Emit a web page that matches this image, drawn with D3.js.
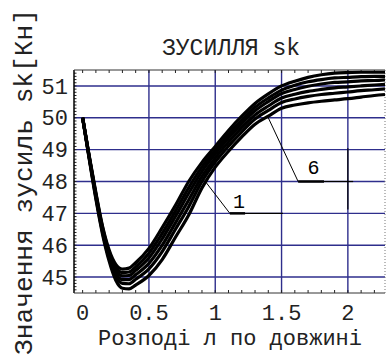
<!DOCTYPE html>
<html><head><meta charset="utf-8">
<script src="https://cdn.jsdelivr.net/npm/d3@7"></script>
<style>body{margin:0;background:#fff}svg{display:block}</style>
</head><body>
<script>
const title = "ЗУСИЛЛЯ sk";
const xTitle = "Розподі л по довжині";
const yTitle = "Значення зусиль sk[Кн]";
const xTicks = [0, 0.5, 1, 1.5, 2];
const xTickLabels = ["0", "0.5", "1", "1.5", "2"];
const yTicks = [45, 46, 47, 48, 49, 50, 51];
const yTickLabels = ["45", "46", "47", "48", "49", "50", "51"];
const xs = [0,0.05,0.1,0.15,0.2,0.25,0.3,0.35,0.4,0.5,0.6,0.7,0.8,0.9,1.0,1.1,1.2,1.3,1.4,1.5,1.6,1.7,1.8,1.9,2.0,2.1,2.2,2.28];
const s1 = [50,48.70,47.45,46.35,45.50,44.90,44.65,44.63,44.75,45.05,45.55,46.25,46.95,47.80,48.45,48.95,49.40,49.80,50.05,50.30,50.40,50.47,50.52,50.56,50.60,50.65,50.70,50.73];
const s2 = [50,48.73,47.50,46.41,45.59,45.03,44.80,44.79,44.93,45.26,45.80,46.50,47.21,48.00,48.61,49.11,49.56,49.96,50.23,50.48,50.59,50.67,50.73,50.77,50.81,50.85,50.88,50.91];
const s3 = [50,48.75,47.54,46.46,45.66,45.13,44.92,44.92,45.07,45.43,46.00,46.70,47.42,48.16,48.74,49.24,49.69,50.09,50.37,50.62,50.74,50.83,50.89,50.94,50.97,51.00,51.03,51.05];
const s4 = [50,48.77,47.58,46.51,45.73,45.23,45.04,45.05,45.21,45.60,46.20,46.90,47.63,48.32,48.87,49.37,49.82,50.22,50.51,50.76,50.89,50.99,51.06,51.11,51.13,51.16,51.17,51.19];
const s5 = [50,48.78,47.61,46.56,45.79,45.31,45.14,45.16,45.32,45.75,46.37,47.07,47.81,48.46,48.98,49.48,49.93,50.33,50.62,50.87,51.02,51.13,51.20,51.25,51.27,51.29,51.30,51.30];
const s6 = [50,48.80,47.65,46.60,45.85,45.40,45.25,45.28,45.45,45.90,46.55,47.25,48.00,48.60,49.10,49.60,50.05,50.45,50.75,51.00,51.15,51.27,51.35,51.40,51.42,51.43,51.43,51.43];
const seriesList = [s1, s2, s3, s4, s5, s6];
// annotation leaders (data coordinates)
const label1 = {text: "1", tx: 1.18, ty: 47.16, from: [0.92, 48.03], elbow: [1.11, 47.0], thickEnd: 1.225, thinEnd: 1.51};
const label6 = {text: "6", tx: 1.74, ty: 48.25, from: [1.40, 50.0], elbow: [1.625, 48.0], thickEnd: 1.82, thinEnd: 2.04};
const markerV = {x: 2.0, y0: 49.04, y1: 47.12};

const W = 387, H = 360;
const svg = d3.select("body").append("svg").attr("width", W).attr("height", H);
const x = d3.scaleLinear().domain([-0.065, 2.28]).range([74, 385]);
const y = d3.scaleLinear().domain([44.5, 51.5]).range([293, 70]);
const font = "'Liberation Mono', 'DejaVu Sans Mono', monospace";
const grid = "#2e2e8c";

// grid
svg.append("g").selectAll("line").data(yTicks).join("line")
  .attr("x1", x.range()[0]).attr("x2", x.range()[1])
  .attr("y1", d => y(d)).attr("y2", d => y(d))
  .attr("stroke", grid).attr("stroke-width", 1.4);
svg.append("g").selectAll("line").data(xTicks.filter(d => d > 0)).join("line")
  .attr("x1", d => x(d)).attr("x2", d => x(d))
  .attr("y1", y.range()[1]).attr("y2", y.range()[0])
  .attr("stroke", grid).attr("stroke-width", 1.4);

// minor ticks
const xMinor = d3.range(0, 2.25, 0.1);
const yMinor = d3.range(44.6, 51.45, 0.1);
const tk = svg.append("g").attr("stroke", "#222").attr("stroke-width", 1);
tk.selectAll(".tt").data(xMinor).join("line").attr("x1", d => x(d)).attr("x2", d => x(d)).attr("y1", 70).attr("y2", 73);
tk.selectAll(".tb").data(xMinor).join("line").attr("x1", d => x(d)).attr("x2", d => x(d)).attr("y1", 293).attr("y2", 290);
tk.selectAll(".tl").data(yMinor).join("line").attr("x1", 74).attr("x2", 76.5).attr("y1", d => y(d)).attr("y2", d => y(d));

// frame
svg.append("line").attr("x1", 74).attr("x2", 74).attr("y1", 70).attr("y2", 293).attr("stroke", "#000").attr("stroke-width", 1.5);
svg.append("line").attr("x1", 74).attr("x2", 385).attr("y1", 70).attr("y2", 70).attr("stroke", "#333").attr("stroke-width", 1);
svg.append("line").attr("x1", 74).attr("x2", 385).attr("y1", 293).attr("y2", 293).attr("stroke", "#333").attr("stroke-width", 1);
svg.append("line").attr("x1", 385).attr("x2", 385).attr("y1", 70).attr("y2", 293).attr("stroke", "#777").attr("stroke-width", 1).attr("stroke-dasharray", "1,2");

// curves
const line = d3.line().x((d, i) => x(xs[i])).y(d => y(d)).curve(d3.curveMonotoneX);
svg.append("g").selectAll("path").data(seriesList).join("path")
  .attr("d", line).attr("fill", "none").attr("stroke", "#000").attr("stroke-width", 3.2);

// annotations
function leader(L) {
  const g = svg.append("g");
  g.append("polyline").attr("points", [[x(L.from[0]), y(L.from[1])], [x(L.elbow[0]), y(L.elbow[1])]].map(p => p.join(",")).join(" "))
    .attr("fill", "none").attr("stroke", "#000").attr("stroke-width", 1);
  g.append("line").attr("x1", x(L.elbow[0])).attr("x2", x(L.thickEnd)).attr("y1", y(L.elbow[1])).attr("y2", y(L.elbow[1])).attr("stroke", "#000").attr("stroke-width", 2.5);
  g.append("line").attr("x1", x(L.thickEnd)).attr("x2", x(L.thinEnd)).attr("y1", y(L.elbow[1])).attr("y2", y(L.elbow[1])).attr("stroke", "#000").attr("stroke-width", 1.2);
  g.append("text").attr("x", x(L.tx)).attr("y", y(L.ty)).attr("text-anchor", "middle")
    .attr("font-family", font).attr("font-size", 20).text(L.text);
}
leader(label1); leader(label6);
svg.append("line").attr("x1", x(markerV.x)).attr("x2", x(markerV.x)).attr("y1", y(markerV.y0)).attr("y2", y(markerV.y1)).attr("stroke", "#000").attr("stroke-width", 1.2);

// tick labels
svg.append("g").selectAll("text").data(xTicks).join("text")
  .attr("x", d => x(d)).attr("y", 320).attr("text-anchor", "middle")
  .attr("font-family", font).attr("font-size", 22).attr("fill", "#222")
  .text((d, i) => xTickLabels[i]);
svg.append("g").selectAll("text").data(yTicks).join("text")
  .attr("x", 68).attr("y", d => y(d)).attr("dy", "0.35em").attr("text-anchor", "end")
  .attr("font-family", font).attr("font-size", 22).attr("fill", "#222")
  .text((d, i) => yTickLabels[i]);

// titles
svg.append("text").attr("x", 231).attr("y", 55).attr("text-anchor", "middle")
  .attr("font-family", font).attr("font-size", 23).attr("fill", "#222").text(title);
svg.append("text").attr("x", 230).attr("y", 345).attr("text-anchor", "middle")
  .attr("font-family", font).attr("font-size", 22).attr("fill", "#222").text(xTitle);
svg.append("text").attr("transform", "translate(32,182) rotate(-90)").attr("text-anchor", "middle")
  .attr("font-family", font).attr("font-size", 26).attr("fill", "#222")
  .attr("textLength", 346).attr("lengthAdjust", "spacingAndGlyphs").text(yTitle);
</script>
</body></html>
